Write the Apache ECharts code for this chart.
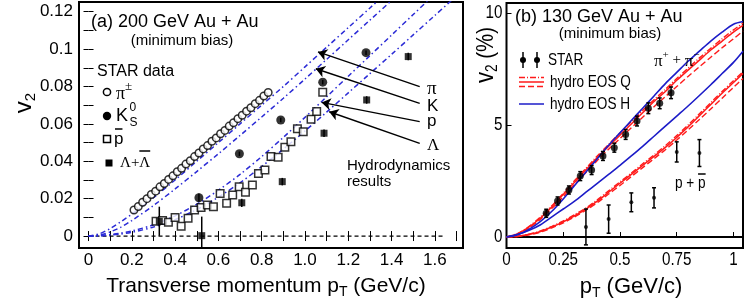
<!DOCTYPE html>
<html><head><meta charset="utf-8">
<script src="https://cdn.jsdelivr.net/npm/echarts@6/dist/echarts.min.js"></script>
<style>html,body{margin:0;padding:0;background:#fff}#c{width:747px;height:303px}</style>
</head><body><div id="c"></div>
<script>
// ---------------- Panel (a): 200 GeV Au+Au ----------------
const pionPt = [0.21,0.23,0.25,0.27,0.29,0.31,0.33,0.35,0.37,0.39,0.41,0.43,0.45,0.47,0.49,0.51,0.53,0.55,0.57,0.59,0.61,0.63,0.65,0.67,0.69,0.71,0.73,0.75,0.77,0.79,0.81,0.83];
const pionV2 = [0.0139,0.0158,0.0181,0.0200,0.0222,0.0240,0.0263,0.0281,0.0303,0.0322,0.0344,0.0362,0.0385,0.0403,0.0425,0.0444,0.0466,0.0484,0.0507,0.0525,0.0547,0.0565,0.0588,0.0606,0.0628,0.0646,0.0668,0.0686,0.0708,0.0726,0.0749,0.0768];
const kaonPt = [0.51,0.697,0.888,1.082,1.282];
const kaonV2 = [0.0205,0.0440,0.0621,0.0823,0.0981];
const kaonErr = [0.0022,0.0012,0.0012,0.0012,0.0012];
const protonPt = [0.312,0.342,0.369,0.400,0.428,0.460,0.490,0.520,0.549,0.577,0.608,0.638,0.666,0.696,0.725,0.757,0.785,0.815,0.843,0.876,0.907,0.935,0.965,0.992,1.028,1.054,1.082];
const protonV2 = [0.0079,0.0083,0.0074,0.0099,0.0053,0.0095,0.0139,0.0153,0.0166,0.0157,0.0228,0.0176,0.0219,0.0264,0.0234,0.0273,0.0335,0.0353,0.0425,0.0421,0.0475,0.0505,0.0574,0.0558,0.0625,0.0666,0.0769];
const lambdaPt = [0.327,0.523,0.708,0.895,1.088,1.285,1.477];
const lambdaV2 = [0.0079,0.0002,0.0178,0.0291,0.0550,0.0728,0.0960];
const lambdaErr = [0.0078,0.0102,0.0022,0.0020,0.0020,0.0020,0.0020];
const hydroPt = [0,0.05,0.1,0.15,0.2,0.3,0.4,0.5,0.6,0.7,0.8,0.9,1.0,1.1,1.2,1.3,1.4,1.5,1.6,1.7];
const hydroPi = [0,0.0012,0.0040,0.0077,0.0117,0.0205,0.0300,0.0400,0.0500,0.0600,0.0700,0.0800,0.0905,0.1010,0.1115,0.1220,0.1325,0.1430,0.1535,0.1640];
const hydroK  = [0,0.0005,0.0022,0.0048,0.0083,0.0163,0.0252,0.0345,0.0440,0.0538,0.0637,0.0737,0.0840,0.0945,0.1050,0.1155,0.1260,0.1365,0.1470,0.1575];
const hydroP  = [0,0.0002,0.0008,0.0016,0.0027,0.0060,0.0108,0.0170,0.0245,0.0330,0.0425,0.0528,0.0635,0.0745,0.0855,0.0965,0.1075,0.1185,0.1295,0.1405];
const hydroL  = [0,0.0001,0.0005,0.0011,0.0020,0.0048,0.0088,0.0142,0.0208,0.0285,0.0372,0.0465,0.0562,0.0663,0.0766,0.0869,0.0972,0.1076,0.1180,0.1285];
const zeroLineA = [0, 1.64];
const arrowFrom = [[1.53,0.0799],[1.53,0.0710],[1.53,0.0612],[1.53,0.0496]];
const arrowTo   = [[1.06,0.0985],[1.05,0.0895],[1.077,0.0715],[1.112,0.0665]];
const xLabelsA = [0,0.2,0.4,0.6,0.8,1.0,1.2,1.4,1.6];
const xTicksA  = [0,0.1,0.2,0.3,0.4,0.5,0.6,0.7,0.8,0.9,1.0,1.1,1.2,1.3,1.4,1.5,1.6,1.7];
const yLabelsA = [0,0.02,0.04,0.06,0.08,0.1,0.12];
const yTicksA  = [0,0.01,0.02,0.03,0.04,0.05,0.06,0.07,0.08,0.09,0.1,0.11,0.12];

// ---------------- Panel (b): 130 GeV Au+Au ----------------
const starPiPt = [0.175,0.225,0.275,0.325,0.375,0.425,0.475,0.525,0.575,0.625,0.675,0.725];
const starPiV2 = [1.06,1.61,2.10,2.72,2.99,3.62,3.99,4.58,5.18,5.75,5.97,6.44];
const starPiErr = [0.18,0.18,0.18,0.2,0.2,0.2,0.2,0.22,0.22,0.24,0.24,0.26];
const starPPt = [0.35,0.45,0.55,0.65,0.75,0.85];
const starPV2 = [0.45,0.80,1.55,1.75,3.80,3.75];
const starPErr = [0.80,0.63,0.42,0.45,0.45,0.60];
const hydroPtB = [0,0.05,0.1,0.15,0.2,0.25,0.3,0.35,0.4,0.45,0.5,0.55,0.6,0.65,0.7,0.75,0.8,0.85,0.9,0.95,1.0,1.042];
const piEosQ   = [0,0.15,0.45,0.85,1.35,1.90,2.45,3.00,3.55,4.05,4.55,5.05,5.55,6.05,6.50,7.00,7.45,7.90,8.35,8.75,9.15,9.45];
const piEosQd  = [0,0.13,0.41,0.80,1.28,1.80,2.35,2.88,3.42,3.92,4.40,4.88,5.35,5.82,6.27,6.72,7.17,7.60,8.03,8.45,8.85,9.20];
const piEosQdd = [0,0.16,0.48,0.90,1.40,1.95,2.52,3.07,3.62,4.14,4.65,5.15,5.65,6.13,6.60,7.08,7.54,8.00,8.43,8.85,9.25,9.55];
const piEosH   = [0,0.10,0.35,0.70,1.15,1.70,2.30,2.90,3.50,4.10,4.65,5.20,5.75,6.30,6.85,7.35,7.85,8.30,8.75,9.15,9.50,9.62];
const pEosH    = [0,0.12,0.30,0.55,0.90,1.25,1.60,2.00,2.40,2.80,3.20,3.62,4.05,4.50,4.95,5.40,5.85,6.32,6.80,7.30,7.80,8.30];
const pEosQ    = [0,0.03,0.12,0.25,0.45,0.68,0.95,1.25,1.60,2.00,2.40,2.80,3.20,3.60,4.00,4.45,4.92,5.42,5.92,6.42,6.90,7.30];
const pEosQd   = [0,0.02,0.10,0.22,0.41,0.63,0.90,1.20,1.53,1.92,2.30,2.70,3.10,3.50,3.90,4.33,4.78,5.25,5.72,6.20,6.68,7.08];
const pEosQdd  = [0,0.035,0.13,0.27,0.48,0.72,1.00,1.30,1.66,2.06,2.46,2.86,3.27,3.67,4.08,4.53,5.00,5.50,6.00,6.50,6.98,7.38];
const zeroLineB = [0, 1.042];
const xLabelsB = [0,0.25,0.5,0.75,1];
const yLabelsB = [0,5,10];

// ---------------- helpers ----------------
const SANS = "'Liberation Sans', Arial, Helvetica, sans-serif";
const SERIF = "'Liberation Serif', 'Times New Roman', serif";
const NX = 0.8; // horizontal squeeze used for the narrow lettering of panel (b)
const BLUE_DOT = '#2b2bd6', RED = '#ff1a1a', BLUE = '#1c1cc8';
const mctx = document.createElement('canvas').getContext('2d');
function tw(t, s, f){ mctx.font = s + 'px ' + f; return mctx.measureText(t).width; }
function run(x0, y, pieces, align){
  const w = pieces.reduce((a,p)=>a+tw(p.t,p.s,p.f)*(p.sx||1),0);
  let x = align==='center' ? x0 - w/2 : (align==='right' ? x0 - w : x0);
  const els = [];
  for (const p of pieces){
    const sx = p.sx||1;
    const pw = tw(p.t,p.s,p.f)*sx;
    els.push({type:'text', x:x, y:y+(p.dy||0), scaleX:sx, z:100, style:{text:p.t, fontSize:p.s, fontFamily:p.f, fill:'#000', align:'left', verticalAlign:'middle'}});
    if (p.bar) els.push({type:'line', z:100, shape:{x1:x+p.bar[0], y1:y+p.bar[2], x2:x+pw-p.bar[1], y2:y+p.bar[2]}, style:{stroke:'#000', lineWidth:1.5}});
    x += pw;
  }
  return els;
}
const zip = (a,b)=>a.map((v,i)=>[v,b[i]]);
const errData = (x,y,e)=>x.map((v,i)=>[v,y[i]-e[i],y[i]+e[i]]);
function errRender(cap, lw){
  return function(params, api){
    const x=api.value(0), lo=api.value(1), hi=api.value(2);
    const a=api.coord([x,lo]), b=api.coord([x,hi]);
    const st={stroke:'#000', lineWidth:lw};
    const ch=[{type:'line', shape:{x1:a[0],y1:a[1],x2:b[0],y2:b[1]}, style:st}];
    if(cap>0){
      ch.push({type:'line', shape:{x1:a[0]-cap,y1:a[1],x2:a[0]+cap,y2:a[1]}, style:st});
      ch.push({type:'line', shape:{x1:b[0]-cap,y1:b[1],x2:b[0]+cap,y2:b[1]}, style:st});
    }
    return {type:'group', children:ch};
  };
}
const noSplit = {show:false};
function valAxis(o){
  return Object.assign({type:'value', splitLine:noSplit, axisLine:{show:false}}, o);
}
const fmtA = v => v===0 ? '0' : v.toFixed(1);
const fmtAy = v => v===0 ? '0' : String(+v.toFixed(2));

const chart = echarts.init(document.getElementById('c'), null, {renderer:'canvas'});
const tickA = (vals)=>({show:true, inside:true, length:5, customValues:vals, lineStyle:{color:'#000', width:1}});

const graphics = [];
// ---- Panel (a) annotations ----
graphics.push(...run(91, 22, [{t:'(a) 200 GeV Au + Au', s:18, f:SANS}], 'left'));
graphics.push(...run(182, 41, [{t:'(minimum bias)', s:15, f:SANS}], 'center'));
graphics.push(...run(97, 72, [{t:'STAR data', s:16, f:SANS}], 'left'));
graphics.push(...run(116, 92, [{t:'π', s:18, f:SERIF, dy:2},{t:'±', s:13, f:SERIF, dy:-5}], 'left'));
graphics.push(...run(116, 116, [{t:'K', s:18, f:SANS}], 'left'));
graphics.push(...run(129.5, 108, [{t:'0', s:12, f:SANS}], 'left'));
graphics.push(...run(129.5, 123, [{t:'S', s:12, f:SANS}], 'left'));
graphics.push(...run(114, 139, [{t:'p', s:17, f:SANS, bar:[1,1,-10]}], 'left'));
graphics.push(...run(120, 163, [{t:'Λ+', s:15, f:SERIF},{t:'Λ', s:15, f:SERIF, bar:[0,0,-12]}], 'left'));
graphics.push({type:'circle', z:100, shape:{cx:107, cy:92, r:3.6}, style:{fill:'#fff', stroke:'#000', lineWidth:1.5}});
graphics.push({type:'circle', z:100, shape:{cx:107, cy:116, r:4.2}, style:{fill:'#000'}});
graphics.push({type:'rect', z:100, shape:{x:103.5, y:135.5, width:7, height:7}, style:{fill:'#fff', stroke:'#000', lineWidth:1.5}});
graphics.push({type:'rect', z:100, shape:{x:105.5, y:159.5, width:7, height:7}, style:{fill:'#000'}});
graphics.push(...run(347, 166, [{t:'Hydrodynamics', s:15, f:SANS}], 'left'));
graphics.push(...run(347, 182, [{t:'results', s:15, f:SANS}], 'left'));
graphics.push(...run(427, 89, [{t:'π', s:19, f:SERIF}], 'left'));
graphics.push(...run(427, 106, [{t:'K', s:17, f:SANS}], 'left'));
graphics.push(...run(427, 121, [{t:'p', s:17, f:SANS}], 'left'));
graphics.push(...run(427, 146, [{t:'Λ', s:17, f:SERIF}], 'left'));
graphics.push(...run(266, 286, [{t:'Transverse momentum p', s:21, f:SANS},{t:'T', s:14, f:SANS, dy:6},{t:' (GeV/c)', s:21, f:SANS}], 'center'));
graphics.push({type:'group', x:24, y:103, rotation:Math.PI/2, z:100,
  children: run(0, 0, [{t:'v', s:24, f:SANS},{t:'2', s:15, f:SANS, dy:7}], 'center')});
// ---- Panel (b) annotations ----
graphics.push(...run(515, 17, [{t:'(b) 130 GeV Au + Au', s:18, f:SANS}], 'left'));
graphics.push(...run(610, 34, [{t:'(minimum bias)', s:15, f:SANS}], 'center'));
graphics.push(...run(548, 60, [{t:'STAR', s:17, f:SANS, sx:NX}], 'left'));
graphics.push(...run(550, 82, [{t:'hydro EOS Q', s:17, f:SANS, sx:NX}], 'left'));
graphics.push(...run(550, 104, [{t:'hydro EOS H', s:17, f:SANS, sx:NX}], 'left'));
graphics.push(...run(654, 60, [{t:'π', s:17, f:SERIF, dy:2},{t:'+', s:11, f:SERIF, dy:-5},{t:' + ', s:15, f:SERIF},{t:'π', s:17, f:SERIF, dy:2},{t:'−', s:11, f:SERIF, dy:-5}], 'left'));
graphics.push(...run(675, 183, [{t:'p + ', s:17, f:SANS, sx:NX},{t:'p', s:17, f:SANS, sx:NX, bar:[0,0,-9]}], 'left'));
[523,537].forEach(cx=>{
  graphics.push({type:'line', z:100, shape:{x1:cx,y1:52,x2:cx,y2:68}, style:{stroke:'#000', lineWidth:1.5}});
  graphics.push({type:'circle', z:100, shape:{cx:cx, cy:60, r:3}, style:{fill:'#000'}});
});
graphics.push({type:'line', z:100, shape:{x1:519,y1:77.5,x2:544,y2:77.5}, style:{stroke:RED, lineWidth:1.5, lineDash:[6,2,1,2]}});
graphics.push({type:'line', z:100, shape:{x1:519,y1:82,x2:544,y2:82}, style:{stroke:RED, lineWidth:1.5}});
graphics.push({type:'line', z:100, shape:{x1:519,y1:86.5,x2:544,y2:86.5}, style:{stroke:RED, lineWidth:1.5, lineDash:[6,3]}});
graphics.push({type:'line', z:100, shape:{x1:519,y1:104,x2:544,y2:104}, style:{stroke:BLUE, lineWidth:1.5}});
graphics.push(...run(631, 287, [{t:'p', s:22, f:SANS},{t:'T', s:14, f:SANS, dy:6},{t:' (GeV/c)', s:22, f:SANS}], 'center'));
graphics.push({type:'group', x:486, y:55, rotation:Math.PI/2, z:100,
  children: run(0, 0, [{t:'v', s:26, f:SANS, sx:0.85},{t:'2', s:16, f:SANS, dy:7, sx:0.85},{t:' (%)', s:24, f:SANS, sx:0.85}], 'center')});

function hline(name, xs, ys, color, width, type, xi, yi){
  return {name, type:'line', xAxisIndex:xi, yAxisIndex:yi, data:zip(xs,ys), showSymbol:false, smooth:0.3,
    lineStyle:{color, width, type}, silent:true, z:3, clip:true};
}

const option = {
  animation:false,
  backgroundColor:'#fff',
  grid:[
    {left:79, top:2, width:384, height:246, show:true, borderColor:'#000', borderWidth:2, backgroundColor:'transparent'},
    {left:506.5, top:3, width:236.5, height:245, show:true, borderColor:'#000', borderWidth:2, backgroundColor:'transparent'}
  ],
  xAxis:[
    valAxis({gridIndex:0, min:-0.044, max:1.73, axisTick:tickA(xTicksA),
      axisLabel:{customValues:xLabelsA, formatter:fmtA, color:'#000', fontSize:17, fontFamily:SANS, margin:4}}),
    valAxis({gridIndex:0, position:'top', min:-0.044, max:1.73, axisTick:tickA(xTicksA), axisLabel:{show:false}}),
    valAxis({gridIndex:1, min:0, max:1.042, axisTick:tickA(xLabelsB), axisLabel:{show:false}})
  ],
  yAxis:[
    valAxis({gridIndex:0, min:-0.0064, max:0.1252, axisTick:tickA(yTicksA),
      axisLabel:{customValues:yLabelsA, formatter:fmtAy, color:'#000', fontSize:17, fontFamily:SANS, margin:6}}),
    valAxis({gridIndex:0, position:'right', min:-0.0064, max:0.1252, axisTick:tickA(yTicksA), axisLabel:{show:false}}),
    valAxis({gridIndex:1, min:-0.49, max:10.45, axisTick:tickA(yLabelsB), axisLabel:{show:false}})
  ],
  graphic: graphics,
  series:[
    {type:'line', xAxisIndex:0, yAxisIndex:0, data:zeroLineA.map(x=>[x,0]), showSymbol:false,
      lineStyle:{color:'#000', width:1.2, type:[4,3]}, z:2},
    hline('pi hydro', hydroPt, hydroPi, BLUE_DOT, 1.5, [5,3,1.5,3], 0, 0),
    hline('K hydro', hydroPt, hydroK, BLUE_DOT, 1.5, [5,3,1.5,3], 0, 0),
    hline('p hydro', hydroPt, hydroP, BLUE_DOT, 1.5, [5,3,1.5,3], 0, 0),
    hline('L hydro', hydroPt, hydroL, BLUE_DOT, 1.5, [5,3,1.5,3], 0, 0),
    {type:'lines', coordinateSystem:'cartesian2d', xAxisIndex:0, yAxisIndex:0, z:4,
      symbol:['none','arrow'], symbolSize:[0,9], lineStyle:{color:'#000', width:1.4, opacity:1},
      data: arrowFrom.map((f,i)=>({coords:[f, arrowTo[i]]}))},
    {type:'custom', xAxisIndex:0, yAxisIndex:0, renderItem:errRender(0,1.5), data:errData(lambdaPt,lambdaV2,lambdaErr), z:5, clip:true},
    {type:'custom', xAxisIndex:0, yAxisIndex:0, renderItem:errRender(0,1.5), data:errData(kaonPt,kaonV2,kaonErr), z:5, clip:true},
    {type:'scatter', xAxisIndex:0, yAxisIndex:0, data:zip(pionPt,pionV2), symbol:'circle', symbolSize:7.5,
      itemStyle:{color:'#fff', borderColor:'#000', borderWidth:1.5}, z:6},
    {type:'scatter', xAxisIndex:0, yAxisIndex:0, data:zip(protonPt,protonV2), symbol:'rect', symbolSize:7.5,
      itemStyle:{color:'#fff', borderColor:'#000', borderWidth:1.5}, z:6},
    {type:'scatter', xAxisIndex:0, yAxisIndex:0, data:zip(kaonPt,kaonV2), symbol:'circle', symbolSize:9,
      itemStyle:{color:'#000'}, z:7},
    {type:'scatter', xAxisIndex:0, yAxisIndex:0, data:zip(lambdaPt,lambdaV2), symbol:'rect', symbolSize:7,
      itemStyle:{color:'#000'}, z:7},
    {type:'line', xAxisIndex:2, yAxisIndex:2, data:zeroLineB.map(x=>[x,0]), showSymbol:false,
      lineStyle:{color:'#000', width:2}, z:2},
    hline('pi Q dd', hydroPtB, piEosQdd, RED, 1.4, [6,2,1,2], 2, 2),
    hline('pi Q', hydroPtB, piEosQ, RED, 1.5, 'solid', 2, 2),
    hline('pi Q d', hydroPtB, piEosQd, RED, 1.4, [6,3], 2, 2),
    hline('p Q dd', hydroPtB, pEosQdd, RED, 1.4, [6,2,1,2], 2, 2),
    hline('p Q', hydroPtB, pEosQ, RED, 1.5, 'solid', 2, 2),
    hline('p Q d', hydroPtB, pEosQd, RED, 1.4, [6,3], 2, 2),
    hline('pi H', hydroPtB, piEosH, BLUE, 1.6, 'solid', 2, 2),
    hline('p H', hydroPtB, pEosH, BLUE, 1.6, 'solid', 2, 2),
    {type:'custom', xAxisIndex:2, yAxisIndex:2, renderItem:errRender(2,1.5), data:errData(starPiPt,starPiV2,starPiErr), z:5, clip:true},
    {type:'custom', xAxisIndex:2, yAxisIndex:2, renderItem:errRender(2,1.5), data:errData(starPPt,starPV2,starPErr), z:5, clip:true},
    {type:'scatter', xAxisIndex:2, yAxisIndex:2, data:zip(starPiPt,starPiV2), symbol:'circle', symbolSize:7,
      itemStyle:{color:'#000'}, z:7},
    {type:'scatter', xAxisIndex:2, yAxisIndex:2, data:zip(starPPt,starPV2), symbol:'circle', symbolSize:4,
      itemStyle:{color:'#000'}, z:7}
  ]
};
chart.setOption(option);

// Narrow tick labels of panel (b), placed through the library's own axes.
const yLabPix = chart.convertToPixel({yAxisIndex:2}, -0.49);
xLabelsB.forEach(v=>{
  const px = chart.convertToPixel({xAxisIndex:2}, v);
  graphics.push(...run(px, yLabPix + 12, [{t:String(v), s:19, f:SANS, sx:NX}], 'center'));
});
const xLabPix = chart.convertToPixel({xAxisIndex:2}, 0);
yLabelsB.forEach(v=>{
  const py = chart.convertToPixel({yAxisIndex:2}, v);
  graphics.push(...run(xLabPix - 4, py, [{t:String(v), s:19, f:SANS, sx:NX}], 'right'));
});
chart.setOption({graphic: graphics});
</script></body></html>
